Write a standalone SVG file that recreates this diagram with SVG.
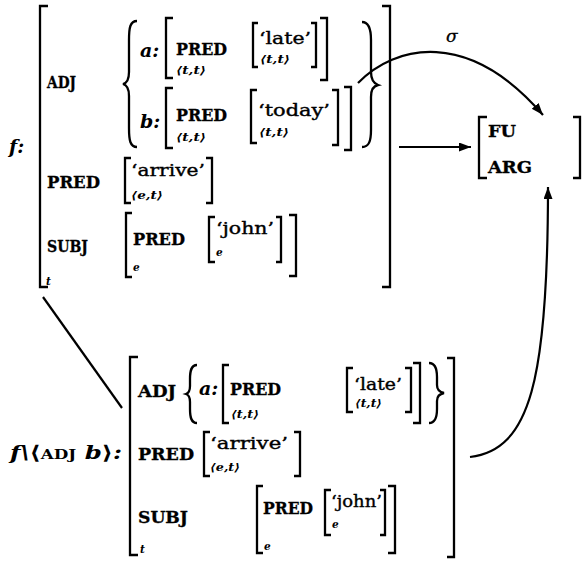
<svg xmlns="http://www.w3.org/2000/svg" width="584" height="563" viewBox="0 0 584 563">
  <defs>
    <style>
      .lab { font-family: "DejaVu Serif", "Liberation Serif", serif; font-weight: bold; font-size: 16px; fill: #000; stroke: #000; stroke-width: 0.3px; }
      .val { font-family: "DejaVu Serif", "Liberation Serif", serif; font-size: 17.5px; fill: #000; stroke: #000; stroke-width: 0.4px; }
      .sub { font-family: "DejaVu Serif", "Liberation Serif", serif; font-style: italic; font-weight: bold; font-size: 10.5px; fill: #000; }
      .var { font-family: "DejaVu Serif", "Liberation Serif", serif; font-style: italic; font-weight: bold; font-size: 19px; fill: #000; }
      .sig { font-family: "DejaVu Serif", "Liberation Serif", serif; font-style: italic; font-size: 17px; fill: #000; stroke: #000; stroke-width: 0.3px; }
      .up { font-style: normal; }
      .br { fill: none; stroke: #000; stroke-width: 2.3px; }
      .ln { fill: none; stroke: #000; stroke-width: 2.2px; }
    </style>
    <marker id="head" markerUnits="userSpaceOnUse" markerWidth="14" markerHeight="10" refX="12" refY="4.5" orient="auto">
      <path d="M0,0 L12,4.5 L0,9 z" fill="#000"/>
    </marker>
  </defs>
  <rect width="584" height="563" fill="#fff"/>

  <!-- f: the full f-structure -->
  <g id="f">
    <text class="var" x="9" y="153">f:</text>
    <path class="br" d="M48,6 H40 V287 H48"/>
    <path class="br" d="M382,6 H390 V287 H382"/>
    <text class="sub" x="46" y="285">t</text>

    <!-- ADJ set -->
    <text class="lab" x="47" y="88" font-size="14" textLength="29" lengthAdjust="spacingAndGlyphs">ADJ</text>
    <path class="br" d="M137,21 C130,21 129,28 129,40 L129,72 C129,79 127,83 123,84 C127,85 129,89 129,96 L129,128 C129,140 130,147 137,147"/>

    <!-- a -->
    <text class="var" x="140" y="57">a:</text>
    <path class="br" d="M173,18 H166 V78 H173"/>
    <text class="lab" x="176" y="55" textLength="51" lengthAdjust="spacingAndGlyphs">PRED</text>
    <text class="sub" x="176" y="74" textLength="30" lengthAdjust="spacingAndGlyphs">⟨t,t⟩</text>
    <path class="br" d="M258,23 H253 V67 H258"/>
    <text class="val" x="259" y="44" textLength="52" lengthAdjust="spacingAndGlyphs">‘late’</text>
    <text class="sub" x="260" y="63" textLength="30" lengthAdjust="spacingAndGlyphs">⟨t,t⟩</text>
    <path class="br" d="M311,23 H316 V67 H311"/>
    <path class="br" d="M320,18 H327 V80 H320"/>

    <!-- b -->
    <text class="var" x="140" y="128">b:</text>
    <path class="br" d="M173,88 H166 V148 H173"/>
    <text class="lab" x="176" y="121" textLength="51" lengthAdjust="spacingAndGlyphs">PRED</text>
    <text class="sub" x="176" y="141" textLength="30" lengthAdjust="spacingAndGlyphs">⟨t,t⟩</text>
    <path class="br" d="M257,90 H251 V143 H257"/>
    <text class="val" x="258" y="116" textLength="72" lengthAdjust="spacingAndGlyphs">‘today’</text>
    <text class="sub" x="259" y="136" textLength="30" lengthAdjust="spacingAndGlyphs">⟨t,t⟩</text>
    <path class="br" d="M332,90 H338 V145 H332"/>
    <path class="br" d="M344,87 H351 V150 H344"/>

    <path class="br" d="M362,22 C369,22 371,29 371,40 L371,72 C371,79 373,83 378,85 C373,86 371,90 371,97 L371,130 C371,141 369,147 362,147"/>

    <!-- PRED -->
    <text class="lab" x="47" y="188" textLength="53" lengthAdjust="spacingAndGlyphs">PRED</text>
    <path class="br" d="M131,158 H125 V203 H131"/>
    <text class="val" x="131" y="176" textLength="74" lengthAdjust="spacingAndGlyphs">‘arrive’</text>
    <text class="sub" x="131" y="199" textLength="32" lengthAdjust="spacingAndGlyphs">⟨e,t⟩</text>
    <path class="br" d="M206,158 H212 V203 H206"/>

    <!-- SUBJ -->
    <text class="lab" x="47" y="252" textLength="41" lengthAdjust="spacingAndGlyphs">SUBJ</text>
    <path class="br" d="M132,213 H126 V277 H132"/>
    <text class="lab" x="133" y="245" textLength="52" lengthAdjust="spacingAndGlyphs">PRED</text>
    <text class="sub" x="133" y="271">e</text>
    <path class="br" d="M215,217 H209 V262 H215"/>
    <text class="val" x="216" y="234" textLength="58" lengthAdjust="spacingAndGlyphs">‘john’</text>
    <text class="sub" x="216" y="256">e</text>
    <path class="br" d="M276,217 H281 V262 H276"/>
    <path class="br" d="M289,215 H296 V276 H289"/>
  </g>

  <!-- semantic structure -->
  <g id="sem">
    <path class="br" d="M487,117 H479 V178 H487"/>
    <path class="br" d="M573,117 H580 V178 H573"/>
    <text class="lab" x="488" y="137" textLength="28" lengthAdjust="spacingAndGlyphs">FU</text>
    <text class="lab" x="488" y="173" textLength="44" lengthAdjust="spacingAndGlyphs">ARG</text>
  </g>

  <!-- f\<ADJ b>: the restricted f-structure -->
  <g id="f-restrict">
    <text class="var" x="10" y="459" textLength="112" lengthAdjust="spacingAndGlyphs">f\<tspan class="up">⟨</tspan><tspan class="up" font-size="13">ADJ</tspan> b<tspan class="up">⟩</tspan>:</text>
    <path class="br" d="M138,357 H130 V555 H138"/>
    <path class="br" d="M447,358 H454 V557 H447"/>
    <text class="sub" x="140" y="553">t</text>

    <!-- ADJ set -->
    <text class="lab" x="138" y="397" font-size="15" textLength="38" lengthAdjust="spacingAndGlyphs">ADJ</text>
    <path class="br" d="M197,365 C191,365 190,371 190,379 L190,386 C190,390 189,393 186,394 C189,395 190,398 190,402 L190,409 C190,417 191,423 197,423"/>
    <text class="var" x="199" y="395">a:</text>
    <path class="br" d="M229,365 H223 V423 H229"/>
    <text class="lab" x="230" y="395" textLength="51" lengthAdjust="spacingAndGlyphs">PRED</text>
    <text class="sub" x="231" y="418" textLength="28" lengthAdjust="spacingAndGlyphs">⟨t,t⟩</text>
    <path class="br" d="M353,368 H347 V412 H353"/>
    <text class="val" x="354" y="390" textLength="48" lengthAdjust="spacingAndGlyphs">‘late’</text>
    <text class="sub" x="355" y="407" textLength="27" lengthAdjust="spacingAndGlyphs">⟨t,t⟩</text>
    <path class="br" d="M405,368 H411 V412 H405"/>
    <path class="br" d="M413,363 H420 V423 H413"/>
    <path class="br" d="M429,363 C435,363 437,369 437,377 L437,385 C437,389 439,392 444,393 C439,394 437,397 437,401 L437,409 C437,417 435,423 429,423"/>

    <!-- PRED -->
    <text class="lab" x="138" y="460" textLength="56" lengthAdjust="spacingAndGlyphs">PRED</text>
    <path class="br" d="M210,432 H204 V476 H210"/>
    <text class="val" x="210" y="449" textLength="78" lengthAdjust="spacingAndGlyphs">‘arrive’</text>
    <text class="sub" x="210" y="471" textLength="30" lengthAdjust="spacingAndGlyphs">⟨e,t⟩</text>
    <path class="br" d="M294,432 H300 V476 H294"/>

    <!-- SUBJ -->
    <text class="lab" x="138" y="523" textLength="50" lengthAdjust="spacingAndGlyphs">SUBJ</text>
    <path class="br" d="M263,486 H257 V553 H263"/>
    <text class="lab" x="263" y="514" textLength="50" lengthAdjust="spacingAndGlyphs">PRED</text>
    <text class="sub" x="264" y="550">e</text>
    <path class="br" d="M331,490 H325 V535 H331"/>
    <text class="val" x="331" y="507" textLength="51" lengthAdjust="spacingAndGlyphs">‘john’</text>
    <text class="sub" x="332" y="528">e</text>
    <path class="br" d="M380,490 H385 V535 H380"/>
    <path class="br" d="M388,486 H395 V553 H388"/>
  </g>

  <!-- connectors -->
  <g id="connectors">
    <path class="ln" d="M358,83 C395,45 468,28 543,115" marker-end="url(#head)"/>
    <text class="sig" x="446" y="42">σ</text>
    <path class="ln" d="M399,147 H471" marker-end="url(#head)"/>
    <path class="ln" d="M470,457 C530,450 548,380 548,187" marker-end="url(#head)"/>
    <path class="ln" d="M43,297 L122,408"/>
  </g>
</svg>
